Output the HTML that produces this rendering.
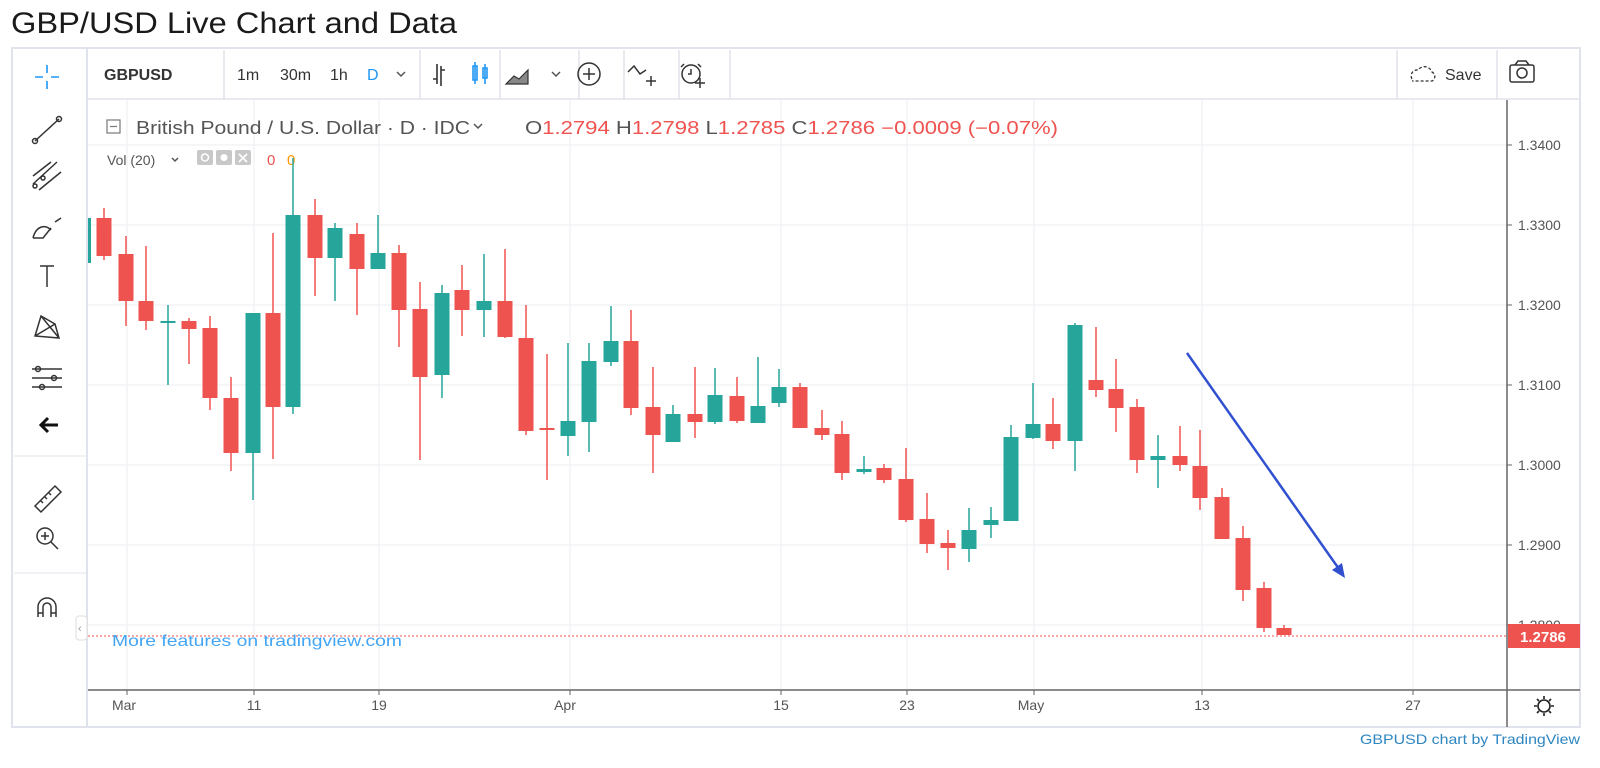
<!DOCTYPE html>
<html><head><meta charset="utf-8"><style>
html,body{margin:0;padding:0;background:#fff;width:1600px;height:768px;overflow:hidden}
svg{display:block}
text{font-family:"Liberation Sans",sans-serif}
</style></head><body>
<svg width="1600" height="768" viewBox="0 0 1600 768" xmlns="http://www.w3.org/2000/svg">
<text x="11" y="33" font-size="30" fill="#1a1a1a" textLength="446" lengthAdjust="spacingAndGlyphs">GBP/USD Live Chart and Data</text>
<!-- outer box -->
<rect x="12" y="48" width="1568" height="679" fill="#fff" stroke="#e0e3eb" stroke-width="2"/>
<line x1="87" y1="48" x2="87" y2="727" stroke="#e0e3eb" stroke-width="2"/>
<line x1="87" y1="99" x2="1580" y2="99" stroke="#e0e3eb" stroke-width="1.5"/>
<line x1="14" y1="456" x2="86" y2="456" stroke="#e0e3eb"/>
<line x1="14" y1="573" x2="86" y2="573" stroke="#e0e3eb"/>
<!-- top toolbar separators -->
<g stroke="#e0e3eb" stroke-width="1.5">
<line x1="224" y1="50" x2="224" y2="99"/><line x1="420" y1="50" x2="420" y2="99"/>
<line x1="500" y1="50" x2="500" y2="99"/><line x1="579" y1="50" x2="579" y2="99"/>
<line x1="624" y1="50" x2="624" y2="99"/><line x1="679" y1="50" x2="679" y2="99"/>
<line x1="730" y1="50" x2="730" y2="99"/><line x1="1397" y1="50" x2="1397" y2="99"/>
<line x1="1497" y1="50" x2="1497" y2="99"/>
</g>
<text x="104" y="80" font-size="16" font-weight="bold" fill="#333">GBPUSD</text>
<text x="237" y="80" font-size="16" fill="#333">1m</text>
<text x="280" y="80" font-size="16" fill="#333">30m</text>
<text x="330" y="80" font-size="16" fill="#333">1h</text>
<text x="367" y="80" font-size="16" fill="#2196f3">D</text>
<path d="M397 72l4 4 4-4" fill="none" stroke="#555" stroke-width="1.5"/>
<g stroke="#333" stroke-width="1.6" fill="none">
<path d="M437 64v20M433 79h4M441 66v20M441 70h4"/>
</g>
<g stroke="#2196f3" stroke-width="1.6" fill="none">
<path d="M475 62v22M473 66h4v14h-4zM485 64v20M483 68h4v10h-4z"/>
</g>
<path d="M506 84l8-8 5 3 9-9v14z" fill="#888" stroke="#333" stroke-width="1.2"/>
<path d="M552 72l4 4 4-4" fill="none" stroke="#555" stroke-width="1.5"/>
<circle cx="589" cy="74" r="11" fill="none" stroke="#333" stroke-width="1.5"/>
<path d="M589 68v12M583 74h12" stroke="#333" stroke-width="1.5"/>
<path d="M628 72l6-6 6 8 6-4M651 76v10M646 81h10" fill="none" stroke="#333" stroke-width="1.5"/>
<circle cx="691" cy="74" r="9" fill="none" stroke="#333" stroke-width="1.5"/>
<path d="M691 69v5h-3M684 64l-3 3M698 64l3 3M700 78v10M695 83h10" fill="none" stroke="#333" stroke-width="1.5"/>
<path d="M1412 79a6 6 0 0 1 6-9a8 8 0 0 1 14 2a5 5 0 0 1 0 9h-20" fill="none" stroke="#333" stroke-width="1.3" stroke-dasharray="3 2"/>
<text x="1445" y="80" font-size="16" fill="#333">Save</text>
<rect x="1510" y="65" width="24" height="17" rx="2" fill="none" stroke="#333" stroke-width="1.5"/>
<path d="M1515 65l3-4h8l3 4" fill="none" stroke="#333" stroke-width="1.5"/>
<circle cx="1522" cy="73" r="5" fill="none" stroke="#333" stroke-width="1.5"/>
<!-- left toolbar icons -->
<g stroke="#2196f3" stroke-width="1.6"><path d="M47 65v8M47 81v8M35 77h8M51 77h8"/></g>
<g stroke="#333" stroke-width="1.5" fill="none">
<path d="M35 141l24-22"/><circle cx="35" cy="141" r="2.5"/><circle cx="59" cy="119" r="2.5"/>
<path d="M33 184l24-22M33 176l18-14M39 190l22-18"/><circle cx="35" cy="186" r="2"/><circle cx="43" cy="178" r="2"/>
<path d="M33 238c3-12 12-14 18-8M33 238h10l8-10M55 222l6-4"/>
<path d="M40 266h14M47 266v21"/>
<path d="M35 336l6-20 14 8 4 14zM35 336l20-12M41 316l18 22"/>
<path d="M32 369h30M32 378h30M32 387h30"/><circle cx="38" cy="369" r="2.5"/><circle cx="54" cy="378" r="2.5"/><circle cx="42" cy="387" r="2.5"/>
<path d="M35 506l20-20 6 6-20 20zM40 500l3 3M44 496l3 3M48 492l3 3"/>
<circle cx="45" cy="536" r="8"/><path d="M51 542l7 7M41 536h8M45 532v8"/>
<path d="M38 617v-10a9 9 0 0 1 18 0v10M38 613h5M51 613h5M43 617v-10a4 4 0 0 1 8 0v10"/>
</g>
<path d="M58 425h-16M48 418l-7 7 7 7" fill="none" stroke="#111" stroke-width="3"/>
<!-- grid -->
<g stroke="#eef0f3" stroke-width="1.2">
<line x1="88" y1="145" x2="1507" y2="145"/><line x1="88" y1="225" x2="1507" y2="225"/>
<line x1="88" y1="305" x2="1507" y2="305"/><line x1="88" y1="385" x2="1507" y2="385"/>
<line x1="88" y1="465" x2="1507" y2="465"/><line x1="88" y1="545" x2="1507" y2="545"/>
<line x1="88" y1="625" x2="1507" y2="625"/>
<line x1="127" y1="100" x2="127" y2="690"/><line x1="254" y1="100" x2="254" y2="690"/>
<line x1="379" y1="100" x2="379" y2="690"/><line x1="570" y1="100" x2="570" y2="690"/>
<line x1="781" y1="100" x2="781" y2="690"/><line x1="907" y1="100" x2="907" y2="690"/>
<line x1="1034" y1="100" x2="1034" y2="690"/><line x1="1202" y1="100" x2="1202" y2="690"/>
<line x1="1413" y1="100" x2="1413" y2="690"/>
</g>
<!-- legend -->
<rect x="107" y="120" width="13" height="13" fill="none" stroke="#777" stroke-width="1.2"/>
<path d="M110 126.5h7" stroke="#777" stroke-width="1.2"/>
<text x="136" y="134" font-size="18" fill="#555" textLength="334" lengthAdjust="spacingAndGlyphs">British Pound / U.S. Dollar · D · IDC</text>
<path d="M474 124l4 4 4-4" fill="none" stroke="#555" stroke-width="1.5"/>
<text x="525" y="134" font-size="18" fill="#555" textLength="533" lengthAdjust="spacingAndGlyphs">O<tspan fill="#ef5350">1.2794</tspan>  H<tspan fill="#ef5350">1.2798</tspan>  L<tspan fill="#ef5350">1.2785</tspan>  C<tspan fill="#ef5350">1.2786</tspan>  <tspan fill="#ef5350">−0.0009 (−0.07%)</tspan></text>
<text x="107" y="165" font-size="14" fill="#555">Vol (20)</text>
<path d="M172 158l3 3 3-3" fill="none" stroke="#555" stroke-width="1.5"/>
<rect x="197" y="150" width="16" height="15" rx="2" fill="#c8c8c8"/><circle cx="205" cy="157.5" r="3.5" fill="none" stroke="#fff" stroke-width="1.5"/>
<rect x="216" y="150" width="16" height="15" rx="2" fill="#c8c8c8"/><circle cx="224" cy="157.5" r="3.5" fill="#fff"/>
<rect x="235" y="150" width="16" height="15" rx="2" fill="#c8c8c8"/><path d="M239 154l8 8M247 154l-8 8" stroke="#fff" stroke-width="1.6"/>
<text x="267" y="165" font-size="15" fill="#ef5350">0</text>
<text x="287" y="165" font-size="15" fill="#ff9800">0</text>
<g id="c"></g>
<!-- price axis -->
<line x1="1507" y1="100" x2="1507" y2="727" stroke="#666" stroke-width="1.5"/>
<line x1="88" y1="690" x2="1580" y2="690" stroke="#666" stroke-width="1.5"/>
<g font-size="14" fill="#555">
<text x="1518" y="150">1.3400</text><text x="1518" y="230">1.3300</text>
<text x="1518" y="310">1.3200</text><text x="1518" y="390">1.3100</text>
<text x="1518" y="470">1.3000</text><text x="1518" y="550">1.2900</text>
<text x="1518" y="630">1.2800</text>
</g>
<g stroke="#666"><path d="M1507 145h5M1507 225h5M1507 305h5M1507 385h5M1507 465h5M1507 545h5M1507 625h5"/>
<path d="M127 690v5M254 690v5M379 690v5M570 690v5M781 690v5M907 690v5M1034 690v5M1202 690v5M1413 690v5"/></g>
<g font-size="14" fill="#555" text-anchor="middle">
<text x="124" y="710">Mar</text><text x="254" y="710">11</text><text x="379" y="710">19</text>
<text x="565" y="710">Apr</text><text x="781" y="710">15</text><text x="907" y="710">23</text>
<text x="1031" y="710">May</text><text x="1202" y="710">13</text><text x="1413" y="710">27</text>
</g>
<circle cx="1544" cy="706" r="6" fill="none" stroke="#222" stroke-width="1.6"/>
<path d="M1544 696v3M1544 713v3M1534 706h3M1551 706h3M1537 699l2 2M1549 711l2 2M1551 699l-2 2M1537 713l2-2" stroke="#222" stroke-width="1.6"/>
<!-- last price -->
<line x1="88" y1="636" x2="1507" y2="636" stroke="#ef5350" stroke-width="1" stroke-dasharray="2 2"/>
<rect x="1508" y="624" width="72" height="24" fill="#ef5350"/>
<text x="1520" y="642" font-size="15" font-weight="bold" fill="#fff">1.2786</text>
<text x="112" y="646" font-size="16" fill="#42a5f5" textLength="290" lengthAdjust="spacingAndGlyphs">More features on tradingview.com</text>
<rect x="76" y="616" width="11" height="24" rx="3" fill="#fff" stroke="#ddd"/>
<text x="78" y="632" font-size="11" fill="#999">‹</text>
<!-- arrow -->
<line x1="1187" y1="353" x2="1339" y2="569" stroke="#3050d0" stroke-width="2.5"/>
<path d="M1345 578l-13-8 10-7z" fill="#3050d0"/>
<text x="1580" y="744" font-size="14" fill="#2e86c1" text-anchor="end" textLength="220" lengthAdjust="spacingAndGlyphs">GBPUSD chart by TradingView</text>
</svg>
<script>
var d=[[104,218,256,208,260,0],[126,254,301,236,326,0],[146,301,321,246,330,0],[168,321,323,305,385,1],[189,321,329,318,364,0],[210,328,398,316,410,0],[231,398,453,377,471,0],[253,313,453,313,500,1],[273,313,407,233,459,0],[293,215,407,158,414,1],[315,215,258,199,296,0],[335,228,258,223,301,1],[357,234,269,223,315,0],[378,253,269,215,269,1],[399,253,310,245,347,0],[420,309,377,282,460,0],[442,293,375,285,398,1],[462,290,310,265,336,0],[484,301,310,254,337,1],[505,301,337,249,338,0],[526,338,431,305,435,0],[547,428,430,354,480,0],[568,421,436,343,456,1],[589,361,422,343,452,1],[611,341,362,306,366,1],[631,341,408,310,415,0],[653,407,435,367,473,0],[673,414,442,405,442,1],[695,414,422,367,438,0],[715,395,422,368,424,1],[737,396,421,377,423,0],[758,406,423,357,423,1],[779,387,403,369,407,1],[800,387,428,383,428,0],[822,428,435,410,440,0],[842,434,473,421,480,0],[864,469,472,456,474,1],[884,468,480,464,483,0],[906,479,520,448,522,0],[927,519,544,493,553,0],[948,543,548,530,570,0],[969,530,549,508,562,1],[991,520,525,507,538,1],[1011,437,521,425,521,1],[1033,424,438,383,439,1],[1053,424,441,398,449,0],[1075,325,441,323,471,1],[1096,380,390,327,397,0],[1116,389,408,359,432,0],[1137,407,460,399,473,0],[1158,456,460,435,488,1],[1180,456,465,426,471,0],[1200,466,498,430,510,0],[1222,497,539,488,539,0],[1243,538,590,526,601,0],[1264,588,628,582,632,0],[1284,628,635,625,635,0]];
var s='<rect x="88" y="218" width="3" height="45" fill="#26a69a"/>';
d.forEach(function(c){var col=c[5]?'#26a69a':'#ef5350';
s+='<line x1="'+c[0]+'" y1="'+c[3]+'" x2="'+c[0]+'" y2="'+c[4]+'" stroke="'+col+'" stroke-width="1.5"/>';
var h=Math.max(c[2]-c[1],2);
s+='<rect x="'+(c[0]-7.5)+'" y="'+c[1]+'" width="15" height="'+h+'" fill="'+col+'"/>';});
document.getElementById('c').innerHTML=s;
</script>
</body></html>
